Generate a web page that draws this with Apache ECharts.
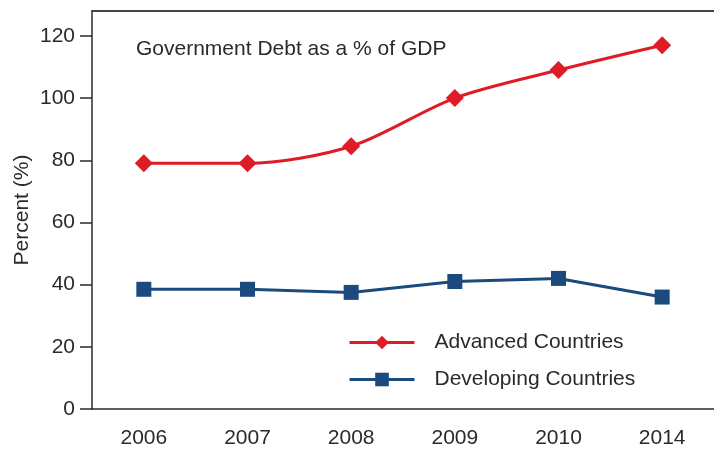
<!DOCTYPE html>
<html>
<head>
<meta charset="UTF-8">
<title>Government Debt as a % of GDP</title>
<style>
  html, body { margin: 0; padding: 0; background: #fff; }
  #chart { width: 714px; height: 451px; }
</style>
<script src="https://cdn.jsdelivr.net/npm/echarts@6/dist/echarts.min.js"></script>
</head>
<body>
<div id="chart"></div>
<script>
// data
const years = ['2006', '2007', '2008', '2009', '2010', '2014'];
const advanced = [79, 79, 84.5, 100, 109, 117];
const developing = [38.5, 38.5, 37.5, 41, 42, 36];
const yTicks = [0, 20, 40, 60, 80, 100, 120];

const chart = echarts.init(document.getElementById('chart'));
const font = 'Liberation Sans, Arial, sans-serif';
const axisCol = '#2a2a2a';
const textCol = '#2a2a2a';

chart.setOption({
    animation: false,
    grid: { left: 92, right: 0, top: 11, bottom: 42, outerBoundsMode: 'none' },
    graphic: [{
        type: 'text',
        x: 136,
        y: 49,
        style: {
            text: 'Government Debt as a % of GDP',
            fontSize: 21, fontFamily: font, fill: textCol,
            verticalAlign: 'middle'
        }
    }],
    legend: {
        orient: 'vertical',
        left: 343,
        top: 327,
        itemWidth: 65,
        itemHeight: 17,
        itemGap: 16,
        lineStyle: { width: 3 },
        textStyle: { fontSize: 21, fontFamily: font, color: textCol, padding: [0, 0, 0, 15] },
        data: ['Advanced Countries', 'Developing Countries']
    },
    xAxis: [{
        type: 'category',
        data: years,
        axisLine: { lineStyle: { color: axisCol, width: 1.5 } },
        axisTick: { length: 13, lineStyle: { color: axisCol, width: 1.5 } },
        axisLabel: { fontSize: 21, fontFamily: font, color: textCol, margin: 19 }
    }, {
        type: 'category',
        position: 'top',
        data: years,
        axisLine: { lineStyle: { color: '#444', width: 2 } },
        axisTick: { show: false },
        axisLabel: { show: false }
    }],
    yAxis: {
        type: 'value',
        min: 0,
        max: 128,
        interval: 20,
        name: 'Percent (%)',
        nameLocation: 'middle',
        nameGap: 59,
        nameMoveOverlap: false,
        nameTextStyle: { fontSize: 21, fontFamily: font, color: textCol },
        axisLine: { show: true, lineStyle: { color: axisCol, width: 1.5 } },
        axisTick: { show: true, length: 12, customValues: yTicks, lineStyle: { color: axisCol, width: 1.5 } },
        axisLabel: { fontSize: 21, fontFamily: font, color: textCol, margin: 17, customValues: yTicks },
        splitLine: { show: false }
    },
    series: [{
        name: 'Advanced Countries',
        type: 'line',
        data: advanced,
        smooth: 0.3,
        symbol: 'diamond',
        symbolSize: 18,
        lineStyle: { color: '#df1b26', width: 3 },
        itemStyle: { color: '#df1b26' }
    }, {
        name: 'Developing Countries',
        type: 'line',
        data: developing,
        symbol: 'rect',
        symbolSize: 15,
        lineStyle: { color: '#1b4b7d', width: 3 },
        itemStyle: { color: '#1b4b7d' }
    }]
});
</script>
</body>
</html>
